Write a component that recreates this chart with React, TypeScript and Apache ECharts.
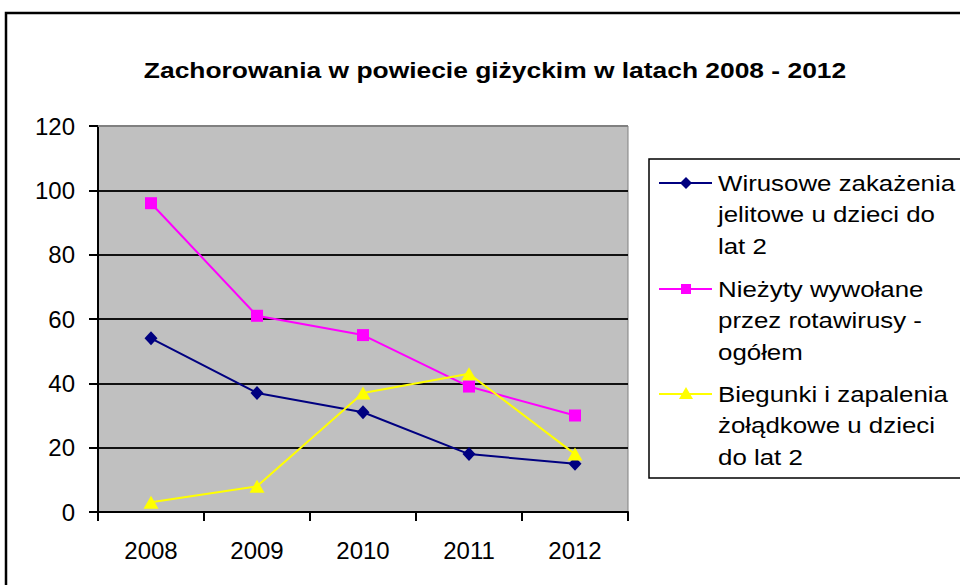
import React, { useEffect, useRef } from "react";
import * as echarts from "echarts";

const titleText = "Zachorowania w powiecie giżyckim w latach 2008 - 2012";
const years = ["2008", "2009", "2010", "2011", "2012"];
const seriesNames = [
  "Wirusowe zakażenia jelitowe u dzieci do lat 2",
  "Nieżyty wywołane przez rotawirusy - ogółem",
  "Biegunki i zapalenia żołądkowe u dzieci do lat 2",
];
const legendLines = [
  ["Wirusowe zakażenia", "jelitowe u dzieci do", "lat 2"],
  ["Nieżyty wywołane", "przez rotawirusy -", "ogółem"],
  ["Biegunki i zapalenia", "żołądkowe u dzieci", "do lat 2"],
];
const wirusowe = [54, 37, 31, 18, 15];
const niezyty = [96, 61, 55, 39, 30];
const biegunki = [3, 8, 37, 43, 18];
const yMin = 0;
const yMax = 120;
const yStep = 20;

const colors = ["#000080", "#FF00FF", "#FFFF00"];
const symbols = ["diamond", "rect", "triangle"];
const symbolSizes: any[] = [[13, 14], [12, 12], [15, 13]];
const FONT = "'Liberation Sans', Arial, sans-serif";

export default function App() {
  const ref = useRef<HTMLDivElement>(null);
  useEffect(() => {
    if (!ref.current) return;
    const chart = echarts.init(ref.current, null, { renderer: "svg" });
    const data = [wirusowe, niezyty, biegunki];

    const legendCapCenters = [183, 289, 394];
    const lineH = 31.7;
    const legendGraphics: any[] = [
      {
        type: "rect",
        shape: { x: 649, y: 159, width: 330, height: 319 },
        style: { fill: "#fff", stroke: "#000", lineWidth: 1.5 },
        z: 50,
      },
    ];
    legendLines.forEach((lines, i) => {
      const cy = legendCapCenters[i];
      legendGraphics.push({
        type: "line",
        shape: { x1: 659, y1: cy, x2: 712, y2: cy },
        style: { stroke: colors[i], lineWidth: 2 },
        z: 51,
      });
      const mx = 686;
      if (i === 0) {
        legendGraphics.push({
          type: "polygon",
          shape: { points: [[mx, cy - 6], [mx + 6, cy], [mx, cy + 6], [mx - 6, cy]] },
          style: { fill: colors[i] },
          z: 52,
        });
      } else if (i === 1) {
        legendGraphics.push({
          type: "rect",
          shape: { x: mx - 5, y: cy - 5, width: 10, height: 10 },
          style: { fill: colors[i] },
          z: 52,
        });
      } else {
        legendGraphics.push({
          type: "polygon",
          shape: { points: [[mx, cy - 7], [mx + 7, cy + 5], [mx - 7, cy + 5]] },
          style: { fill: colors[i] },
          z: 52,
        });
      }
      lines.forEach((ln, k) => {
        legendGraphics.push({
          type: "text",
          x: 718,
          y: cy + k * lineH,
          scaleX: 1.175,
          style: {
            text: ln,
            fill: "#000",
            font: `22px ${FONT}`,
            textAlign: "left",
            textVerticalAlign: "middle",
          },
          z: 52,
        });
      });
    });

    const option: any = {
      animation: false,
      backgroundColor: "#fff",
      grid: {
        left: 98,
        top: 126,
        right: 332,
        bottom: 73,
        show: true,
        backgroundColor: "#C0C0C0",
        borderColor: "#808080",
        borderWidth: 1,
      },
      xAxis: {
        type: "category",
        data: years,
        boundaryGap: true,
        axisLine: { show: true, lineStyle: { color: "#000", width: 2 } },
        axisTick: { show: true, length: 9, alignWithLabel: false, lineStyle: { color: "#000", width: 2 } },
        axisLabel: { color: "#000", fontSize: 24, fontFamily: FONT, margin: 26 },
        splitLine: { show: false },
      },
      yAxis: {
        type: "value",
        min: yMin,
        max: yMax,
        interval: yStep,
        axisLine: { show: true, lineStyle: { color: "#000", width: 2 } },
        axisTick: { show: true, length: 9, lineStyle: { color: "#000", width: 2 } },
        axisLabel: { color: "#000", fontSize: 24, fontFamily: FONT, margin: 23 },
        splitLine: { show: true, lineStyle: { color: "#111", width: 2 } },
      },
      series: seriesNames.map((name, i) => ({
        name,
        type: "line",
        data: data[i],
        symbol: symbols[i],
        symbolSize: symbolSizes[i],
        showAllSymbol: true,
        lineStyle: { color: colors[i], width: 2 },
        itemStyle: { color: colors[i] },
        z: 10 + i,
      })),
      graphic: [
        {
          type: "rect",
          shape: { x: 6, y: 13, width: 1000, height: 700 },
          style: { fill: "none", stroke: "#000", lineWidth: 2.5 },
          z: 40,
        },
        {
          type: "line",
          shape: { x1: 98, y1: 126, x2: 628, y2: 126 },
          style: { stroke: "#808080", lineWidth: 2 },
          z: 40,
        },
        {
          type: "text",
          x: 495,
          y: 70,
          scaleX: 1.2,
          style: {
            text: titleText,
            fill: "#000",
            font: `bold 22px ${FONT}`,
            textAlign: "center",
            textVerticalAlign: "middle",
          },
          z: 40,
        },
        ...legendGraphics,
      ],
    };
    chart.setOption(option);
    return () => chart.dispose();
  }, []);
  return (
    <div
      ref={ref}
      style={{ position: "fixed", left: 0, top: 0, width: 960, height: 585 }}
    />
  );
}
